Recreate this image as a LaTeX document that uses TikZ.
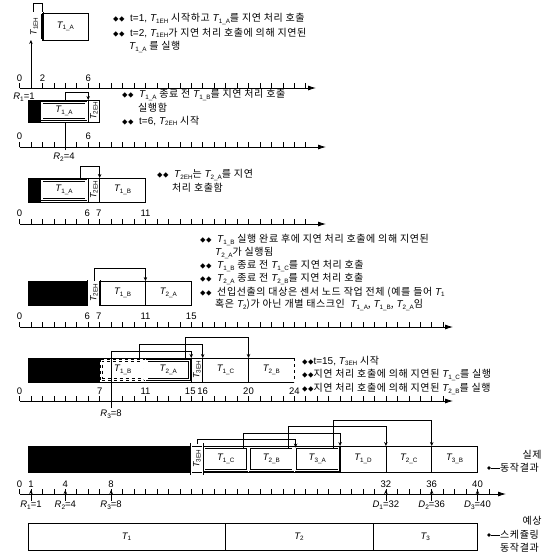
\documentclass[tikz,border=0pt]{standalone}
\usepackage{fontspec}
\setmainfont{Noto Sans CJK KR}[LetterSpace=6]
\newfontfamily\lat{Liberation Sans}
\usetikzlibrary{arrows.meta}
\newcommand{\TT}[1]{{\lat\itshape T}{\lat\fontsize{6.3}{6.3}\selectfont\raisebox{-0.4ex}{#1}}}
\newcommand{\SB}[2]{{\lat\itshape #1}{\lat\fontsize{6.5}{6.5}\selectfont\raisebox{-0.4ex}{#2}}}
\newcommand{\bl}{{\fontsize{5.5}{6}\selectfont ◆◆}}
\newcommand{\bx}[7]{\node[#1,anchor=north west,minimum width={(#4-#3)*1pt},minimum height={(#6-#5)*1pt}] (#2) at (#3,#5) {#7};}
\tikzset{
 bx/.style={draw, line width=0.6pt, inner sep=0pt, outer sep=0pt},
 nbx/.style={inner sep=0pt, outer sep=0pt},
 dbx/.style={draw, double, double distance=1.3pt, line width=0.45pt, inner sep=0pt, outer sep=0pt},
 blk/.style={fill=black, draw=black, inner sep=0pt, outer sep=0pt},
 conn/.style={line width=0.55pt, -{Stealth[length=4pt,width=3.5pt]}},
 tl/.style={line width=0.55pt},
 axis/.style={line width=0.8pt, -{Latex[length=8pt,width=5pt]}},
 tick/.style={line width=0.6pt},
 num/.style={font=\lat\fontsize{9.5}{10}\selectfont, inner sep=0pt},
 kt/.style={anchor=west, inner sep=0pt, font=\fontsize{10}{11}\selectfont},
 tk/.style={font=\fontsize{9.5}{10}\selectfont},
 rot/.style={rotate=90, font=\fontsize{9}{9}\selectfont, inner sep=0pt},
}
\begin{document}
\begin{tikzpicture}[x={(1pt,0pt)}, y={(0pt,-1pt)}]
\useasboundingbox (0,0) rectangle (559,555);

% ---------------- Row 1
\bx{bx}{r1top}{33}{42.4}{3}{13}{}
\bx{dbx}{r1eh}{26}{42.4}{13}{40}{}
\node[rot] (r1ehl) at (r1eh.center) {\TT{1EH}};
\bx{bx,tk}{r1a}{42.4}{88.2}{13}{40}{\TT{1\_A}}
\coordinate (r1p) at (30.95,88);
\draw[conn] (r1p) -- (r1p |- r1eh.south);
\coordinate (a1s) at (19.5,88); \coordinate (a1e) at (316,88);
\draw[axis] (a1s) -- (a1e);
\foreach \t in {0,...,25} \draw[tick] ({19.5+11.45*\t},88) -- ++(0,-5);
\node[num] (n1a) at (19.5,78) {0};
\node[num] (n1b) at (42.4,78) {2};
\node[num] (n1c) at (88.2,78) {6};
\node[num,anchor=north] (r1l) at (24,93) {\SB{R}{1}=1};
\node[kt] (t1a) at (113,19) {\bl\ \ {\lat t=1,} \TT{1EH} 시작하고 \TT{1\_A}를 지연 처리 호출};
\node[kt] (t1b) at (113,33) {\bl\ \ {\lat t=2,} \TT{1EH}가 지연 처리 호출에 의해 지연된};
\node[kt] (t1c) at (129,47) {\TT{1\_A} 를 실행};

% ---------------- Row 2
\bx{bx}{r2o}{28}{99.65}{100}{122}{}
\bx{blk}{r2k}{28}{40}{100}{122}{}
\bx{dbx,tk}{r2a}{42}{86}{102.5}{119.5}{\TT{1\_A}}
\bx{bx}{r2eh}{88.2}{99.65}{100}{122}{}
\node[rot] (r2ehl) at (r2eh.center) {\TT{2EH}};
\coordinate (r2p) at (65.3,150);
\draw[tl] (r2p) -- (r2p |- r2o.south);
\coordinate (r2q) at (65.3,100); \coordinate (r2lv) at (0,92);
\draw[conn] (r2q) -- (r2q |- r2lv) -| (r2eh.north west);
\coordinate (a2s) at (19.5,147); \coordinate (a2e) at (326,147);
\draw[axis] (a2s) -- (a2e);
\foreach \t in {0,...,25} \draw[tick] ({19.5+11.45*\t},147) -- ++(0,-5);
\node[num] (n2a) at (19.5,136) {0};
\node[num] (n2b) at (88.2,136) {6};
\node[num,anchor=north] (r2l) at (64,153) {\SB{R}{2}=4};
\node[kt] (t2a) at (122,95) {\bl\ \ \TT{1\_A} 종료 전 \TT{1\_B}를 지연 처리 호출};
\node[kt] (t2b) at (138,108) {실행함};
\node[kt] (t2c) at (122,121) {\bl\ \ {\lat t=6,} \TT{2EH} 시작};

% ---------------- Row 3
\bx{bx}{r3o}{28}{145.45}{178}{202}{}
\bx{blk}{r3k}{28}{40}{178}{202}{}
\bx{dbx,tk}{r3a}{42}{86}{180.5}{199.5}{\TT{1\_A}}
\bx{bx}{r3eh}{88.2}{99.65}{178}{202}{}
\node[rot] (r3ehl) at (r3eh.center) {\TT{2EH}};
\bx{bx,tk}{r3b}{99.65}{145.45}{178}{202}{\TT{1\_B}}
\coordinate (r3q) at (80,178); \coordinate (r3lv) at (0,166);
\draw[conn] (r3q) -- (r3q |- r3lv) -| (r3b.north west);
\coordinate (a3s) at (19.5,224); \coordinate (a3e) at (326,224);
\draw[axis] (a3s) -- (a3e);
\foreach \t in {0,...,25} \draw[tick] ({19.5+11.45*\t},224) -- ++(0,-5);
\node[num] (n3a) at (19.5,213) {0};
\node[num] (n3b) at (87.2,213) {6};
\node[num] (n3c) at (98.65,213) {7};
\node[num] (n3d) at (145.45,213) {11};
\node[kt] (t3a) at (157,175) {\bl\ \ \TT{2EH}는 \TT{2\_A}를 지연};
\node[kt] (t3b) at (172,188) {처리 호출함};

% ---------------- Row 4
\bx{bx}{r4o}{28}{191.25}{281}{305}{}
\bx{blk}{r4k}{28}{88.2}{281}{305}{}
\bx{dbx}{r4eh}{88.2}{99.65}{281}{305}{}
\node[rot] (r4ehl) at (r4eh.center) {\TT{2EH}};
\bx{bx,tk}{r4b}{99.65}{145.45}{281}{305}{\TT{1\_B}}
\bx{bx,tk}{r4c}{145.45}{191.25}{281}{305}{\TT{2\_A}}
\coordinate (r4q) at (94,281); \coordinate (r4lv) at (0,268);
\draw[conn] (r4q) -- (r4q |- r4lv) -| (r4c.north west);
\coordinate (a4s) at (19.5,327); \coordinate (a4e) at (453,327);
\draw[axis] (a4s) -- (a4e);
\foreach \t in {0,...,37} \draw[tick] ({19.5+11.45*\t},327) -- ++(0,-5);
\node[num] (n4a) at (19.5,316) {0};
\node[num] (n4b) at (87.2,316) {6};
\node[num] (n4c) at (98.65,316) {7};
\node[num] (n4d) at (145.45,316) {11};
\node[num] (n4e) at (191.25,316) {15};
\node[kt] (t4a) at (200,240) {\bl\ \ \TT{1\_B} 실행 완료 후에 지연 처리 호출에 의해 지연된};
\node[kt] (t4b) at (215,253) {\TT{2\_A}가 실행됨};
\node[kt] (t4c) at (200,266) {\bl\ \ \TT{1\_B} 종료 전 \TT{1\_C}를 지연 처리 호출};
\node[kt] (t4d) at (200,279) {\bl\ \ \TT{2\_A} 종료 전 \TT{2\_B}를 지연 처리 호출};
\node[kt] (t4e) at (200,292) {\bl\ \ 선입선출의 대상은 센서 노드 작업 전체 (예를 들어 \TT{1}};
\node[kt] (t4f) at (215,305) {혹은 \TT{2})가 아닌 개별 태스크인 \ \TT{1\_A}, \TT{1\_B}, \TT{2\_A}임};

% ---------------- Row 5
\bx{bx}{r5o}{28}{248.5}{358}{382}{}
\bx{blk}{r5k}{28}{99.65}{358}{382}{}
\bx{dbx,dashed,tk}{r5b}{101.5}{144}{360.5}{379.5}{\TT{1\_B}}
\bx{dbx,tk}{r5c}{147}{189.5}{360.5}{379.5}{\TT{2\_A}}
\bx{bx}{r5eh}{191.25}{202.7}{358}{382}{}
\node[rot] (r5ehl) at (r5eh.center) {\TT{3EH}};
\bx{bx,tk}{r5d}{202.7}{248.5}{358}{382}{\TT{1\_C}}
\bx{nbx,tk}{r5e}{248.5}{294.3}{358}{382}{\TT{2\_B}}
\draw[line width=0.6pt] (r5e.north west) -- (r5e.north east);
\draw[line width=0.6pt] (r5e.south west) -- (r5e.south east);
\draw[dashed,line width=0.6pt] (r5e.north east) -- (r5e.south east);
\coordinate (r5p) at (111.1,408); \coordinate (r5l1) at (0,351);
\draw[conn] (r5p) -- (r5p |- r5l1) -| (r5eh.north west);
\coordinate (r5q) at (139,358); \coordinate (r5l2) at (0,344);
\draw[conn] (r5q) -- (r5q |- r5l2) -| (r5d.north west);
\coordinate (r5r) at (185,358); \coordinate (r5l3) at (0,337);
\draw[conn] (r5r) -- (r5r |- r5l3) -| (r5e.north west);
\coordinate (a5s) at (19.5,401); \coordinate (a5e) at (453,401);
\draw[axis] (a5s) -- (a5e);
\foreach \t in {0,...,37} \draw[tick] ({19.5+11.45*\t},401) -- ++(0,-5);
\node[num] (n5a) at (19.5,391) {0};
\node[num] (n5b) at (99.65,391) {7};
\node[num] (n5c) at (145.45,391) {11};
\node[num] (n5d) at (190.25,391) {15};
\node[num] (n5e) at (202.7,391) {16};
\node[num] (n5f) at (248.5,391) {20};
\node[num] (n5g) at (294.3,391) {24};
\node[num,anchor=north] (r3l) at (111.1,410) {\SB{R}{3}=8};
\node[kt] (t5a) at (302,361) {\bl{\lat t=15,} \TT{3EH} 시작};
\node[kt] (t5b) at (302,375) {\bl 지연 처리 호출에 의해 지연된 \TT{1\_C}를 실행};
\node[kt] (t5c) at (302,389) {\bl 지연 처리 호출에 의해 지연된 \TT{2\_B}를 실행};

% ---------------- Row 6
\bx{bx}{r6o}{28}{477.5}{446}{472}{}
\bx{blk}{r6k}{28}{191.25}{446}{472}{}
\bx{dbx}{r6eh}{191.25}{202.7}{444}{474}{}
\node[rot] (r6ehl) at (r6eh.center) {\TT{3EH}};
\bx{dbx,tk}{r6a}{204.2}{247.3}{447.5}{470.5}{\TT{1\_C}}
\bx{dbx,tk}{r6b}{249.8}{293}{447.5}{470.5}{\TT{2\_B}}
\bx{dbx,tk}{r6c}{295.6}{338.8}{447.5}{470.5}{\TT{3\_A}}
\bx{bx,tk}{r6d}{340.1}{385.9}{446}{472}{\TT{1\_D}}
\bx{bx,tk}{r6e}{385.9}{431.7}{446}{472}{\TT{2\_C}}
\bx{bx,tk}{r6f}{431.7}{477.5}{446}{472}{\TT{3\_B}}
\coordinate (r6p) at (197,444); \coordinate (r6l1) at (0,439);
\draw[conn] (r6p) -- (r6p |- r6l1) -| (r6c.north west);
\coordinate (r6q) at (243,447.5); \coordinate (r6l2) at (0,433);
\draw[conn] (r6q) -- (r6q |- r6l2) -| (r6d.north west);
\coordinate (r6r) at (288,447.5); \coordinate (r6l3) at (0,426);
\draw[conn] (r6r) -- (r6r |- r6l3) -| (r6e.north west);
\coordinate (r6s) at (333,447.5); \coordinate (r6l4) at (0,420);
\draw[conn] (r6s) -- (r6s |- r6l4) -| (r6f.north west);
\coordinate (a6s) at (19.5,494); \coordinate (a6e) at (506,494);
\draw[axis] (a6s) -- (a6e);
\foreach \t in {0,...,41} \draw[tick] ({19.5+11.45*\t},494) -- ++(0,-5);
\node[num] (n6a) at (19.5,484) {0};
\node[num] (n6b) at (30.95,484) {1};
\node[num] (n6c) at (65.3,484) {4};
\node[num] (n6d) at (111.1,484) {8};
\node[num] (n6e) at (385.9,484) {32};
\node[num] (n6f) at (431.7,484) {36};
\node[num] (n6g) at (477.5,484) {40};
\foreach \x/\n in {30.95/ua,65.3/ub,111.1/uc,385.9/ud,431.7/ue,477.5/uf} {
  \coordinate (\n s) at (\x,501); \coordinate (\n e) at (\x,490);
  \draw[conn] (\n s) -- (\n e);
}
\node[num,anchor=north] (l6a) at (30.95,501) {\SB{R}{1}=1};
\node[num,anchor=north] (l6b) at (65.3,501) {\SB{R}{2}=4};
\node[num,anchor=north] (l6c) at (111.1,501) {\SB{R}{3}=8};
\node[num,anchor=north] (l6d) at (385.9,501) {\SB{D}{1}=32};
\node[num,anchor=north] (l6e) at (431.7,501) {\SB{D}{2}=36};
\node[num,anchor=north] (l6f) at (477.5,501) {\SB{D}{3}=40};

% side labels
\node[kt,anchor=center] (sa1) at (532,455) {실제};
\node[kt] (sa2) at (500,468) {동작결과};
\node[circle,fill,inner sep=1.3pt] (sad) at (489,468) {};
\draw[tl] (sad) -- (sa2.west);

% ---------------- Row 7
\bx{bx,tk}{p1}{28}{225}{523}{550}{\TT{1}}
\bx{bx,tk}{p2}{225}{373}{523}{550}{\TT{2}}
\bx{bx,tk}{p3}{373}{477.5}{523}{550}{\TT{3}}
\node[kt,anchor=center] (sb1) at (532,521) {예상};
\node[kt] (sb2) at (500,535) {스케쥴링};
\node[kt] (sb3) at (500,548) {동작결과};
\node[circle,fill,inner sep=1.3pt] (sbd) at (489,535) {};
\draw[tl] (sbd) -- (sb2.west);
\end{tikzpicture}
\end{document}
